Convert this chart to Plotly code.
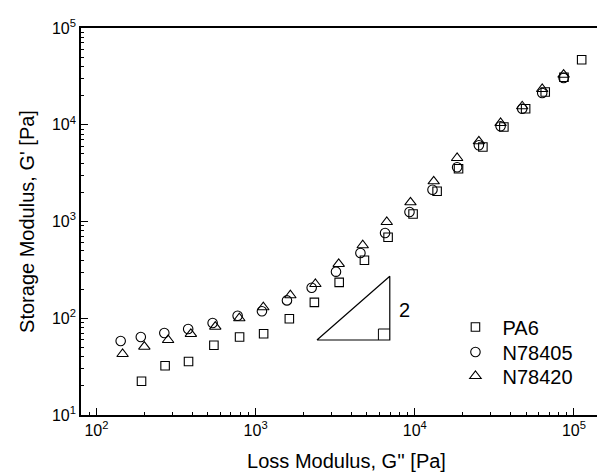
import math
import plotly.graph_objects as go

# ---- data ----
pa6_x = [192, 270, 379, 547, 793, 1123, 1629, 2340, 3350, 4827, 6796, 9756,
         13810, 18830, 26780, 36280, 49690, 65990, 86520, 111800]
pa6_y = [22.3, 32.3, 35.7, 52.5, 64.0, 69.2, 98.9, 146, 235, 397, 687, 1195,
         2051, 3505, 5888, 9478, 14650, 21800, 30940, 47010]

n405_x = [142, 190, 267, 377, 537, 771, 1096, 1574, 2250, 3199, 4555, 6506,
          9262, 12920, 18450, 25270, 34590, 47300, 63180, 86100]
n405_y = [58.2, 64, 70.4, 77.4, 89.3, 106, 118, 153, 207, 303, 472, 760,
          1254, 2132, 3631, 6134, 9638, 14650, 21290, 30420]

n420_x = [146, 200, 282, 392, 558, 790, 1118, 1653, 2374, 3327, 4710, 6668,
          9395, 13150, 18450, 25270, 34590, 47300, 63180, 86100]
n420_y = [42.7, 50.8, 59.6, 68.8, 81.8, 100, 130, 173, 226, 364, 568, 988,
          1579, 2604, 4532, 6745, 10420, 15520, 23420, 32910]

series_names = ["PA6", "N78405", "N78420"]

# slope triangle (slope label "2")
slope_x = [2429, 6966, 6966, 2429]
slope_y = [59.6, 59.6, 271.5, 59.6]
corner_x = [5910, 5910, 6966]
corner_y = [59.6, 77.4, 77.4]
slope_label = "2"

x_ticks = [1e2, 1e3, 1e4, 1e5]
x_ticktext = ["10<sup>2</sup>", "10<sup>3</sup>", "10<sup>4</sup>", "10<sup>5</sup>"]
y_ticks = [1e1, 1e2, 1e3, 1e4, 1e5]
y_ticktext = ["10<sup>1</sup>", "10<sup>2</sup>", "10<sup>3</sup>", "10<sup>4</sup>", "10<sup>5</sup>"]

x_title = "Loss Modulus, G'' [Pa]"
y_title = "Storage Modulus, G' [Pa]"

FONT = "Liberation Sans, Arial, sans-serif"

minor_x = [m * 10 ** e for e in range(1, 6) for m in range(2, 10)]
minor_y = [m * 10 ** e for e in range(1, 5) for m in range(2, 10)]

fig = go.Figure()

symbols = ["square-open", "circle-open", "triangle-up-open"]
sizes = [8.5, 9.5, 10]
legends = ["legend", "legend2", "legend3"]
for name, xs, ys, sym, sz, lg in zip(series_names, [pa6_x, n405_x, n420_x],
                                     [pa6_y, n405_y, n420_y], symbols, sizes,
                                     legends):
    fig.add_trace(go.Scatter(
        x=xs, y=ys, mode="markers", name=name, legend=lg,
        marker=dict(symbol=sym, size=sz, color="black",
                    line=dict(color="black", width=1.1)),
    ))

fig.add_trace(go.Scatter(x=slope_x, y=slope_y, mode="lines", showlegend=False,
                         line=dict(color="black", width=1.2), hoverinfo="skip"))
fig.add_trace(go.Scatter(x=corner_x, y=corner_y, mode="lines", showlegend=False,
                         line=dict(color="black", width=1), hoverinfo="skip"))

fig.add_annotation(x=math.log10(8650), y=math.log10(121), text=slope_label,
                   showarrow=False, font=dict(family=FONT, size=20, color="black"))

axis_common = dict(
    type="log", showgrid=False, zeroline=False, ticks="inside", ticklen=7,
    tickwidth=1, tickcolor="black", showline=True, linecolor="black",
    linewidth=1.6, mirror=True,
    tickfont=dict(family=FONT, size=16, color="black"),
)

fig.update_xaxes(
    **axis_common,
    range=[math.log10(80), 5.239],
    tickmode="array", tickvals=x_ticks, ticktext=x_ticktext,
    minor=dict(tickmode="array", tickvals=minor_x, ticks="inside", ticklen=3,
               tickcolor="black", tickwidth=1),
    title=dict(text=x_title, font=dict(family=FONT, size=20, color="black"), standoff=16),
)
fig.update_yaxes(
    **axis_common,
    range=[1, 5],
    tickmode="array", tickvals=y_ticks, ticktext=y_ticktext,
    minor=dict(tickmode="array", tickvals=minor_y, ticks="inside", ticklen=3,
               tickcolor="black", tickwidth=1),
    title=dict(text=y_title, font=dict(family=FONT, size=20, color="black"), standoff=12),
)

leg_common = dict(xanchor="left", yanchor="middle", bgcolor="rgba(0,0,0,0)",
                  itemwidth=44, font=dict(family=FONT, size=20, color="black"))
fig.update_layout(
    width=605, height=476,
    margin=dict(l=73, r=1, t=20, b=69, autoexpand=False),
    paper_bgcolor="white", plot_bgcolor="white",
    font=dict(family=FONT, color="black"),
    showlegend=True,
    legend=dict(x=0.692, y=0.2274, **leg_common),
    legend2=dict(x=0.692, y=0.1628, **leg_common),
    legend3=dict(x=0.692, y=0.1008, **leg_common),
)

fig.write_html("out.html")
